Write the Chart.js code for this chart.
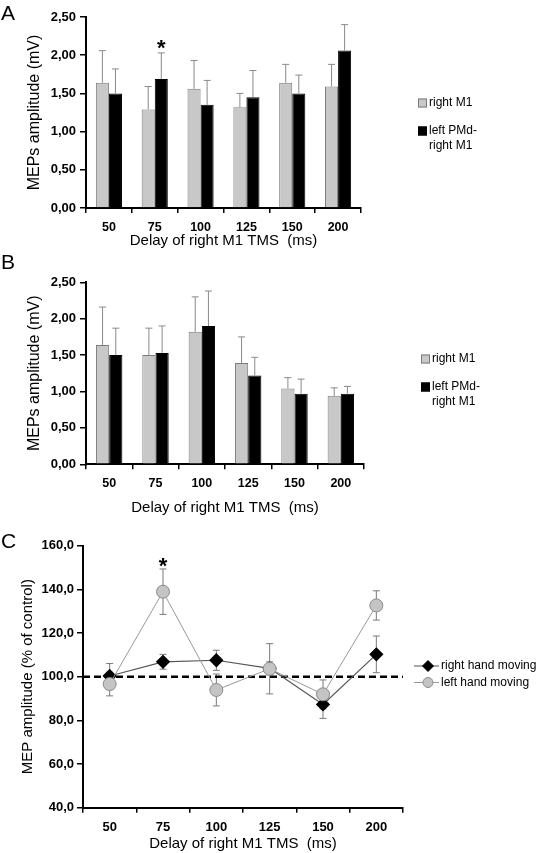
<!DOCTYPE html>
<html>
<head>
<meta charset="utf-8">
<script src="https://cdn.jsdelivr.net/npm/chart.js@4.4.0/dist/chart.umd.min.js"></script>
<style>
  body { margin: 0; background: #fff; }
  #wrap { position: relative; width: 542px; height: 853px; overflow: hidden; }
  canvas { position: absolute; left: 0; }
  .letter { position: absolute; left: 1px; font: 21px "Liberation Sans", Arial, sans-serif; color: #000; }
</style>
</head>
<body>
<div id="wrap">
  <canvas id="chartA" width="542" height="262" style="top:0"></canvas>
  <canvas id="chartB" width="542" height="264" style="top:262px"></canvas>
  <canvas id="chartC" width="542" height="327" style="top:526px"></canvas>
  <div class="letter" style="top:1px">A</div>
  <div class="letter" style="top:250px">B</div>
  <div class="letter" style="top:529px">C</div>
</div>
<script>
const delays = ["50", "75", "100", "125", "150", "200"];
const xTitle = "Delay of right M1 TMS  (ms)";

// panel A - MEPs amplitude (mV)
const rightM1A = [1.64, 1.29, 1.56, 1.32, 1.64, 1.59];
const rightM1AErr = [0.42, 0.30, 0.37, 0.18, 0.24, 0.29];
const leftPMdA = [1.50, 1.69, 1.35, 1.45, 1.50, 2.06];
const leftPMdAErr = [0.32, 0.34, 0.32, 0.35, 0.24, 0.34];

// panel B
const rightM1B = [1.64, 1.50, 1.82, 1.39, 1.04, 0.94];
const rightM1BErr = [0.52, 0.37, 0.48, 0.36, 0.15, 0.11];
const leftPMdB = [1.50, 1.53, 1.90, 1.22, 0.97, 0.97];
const leftPMdBErr = [0.37, 0.37, 0.48, 0.25, 0.20, 0.10];

// panel C - MEP amplitude (% of control)
const rightHand = [100.3, 106.8, 107.5, 103.8, 87.3, 110.2];
const rightHandErr = [5.7, 3.4, 4.6, 3.0, 6.4, 8.4];
const leftHand = [96.6, 138.9, 93.9, 103.6, 91.9, 132.6];
const leftHandErr = [5.4, 10.4, 7.3, 11.5, 6.6, 6.7];

Chart.defaults.color = "#000";
Chart.defaults.font.family = "'Liberation Sans', Arial, sans-serif";

function drawErrors(chart, opts) {
    const ctx = chart.ctx;
    const yScale = chart.scales.y;
    chart.data.datasets.forEach((ds, i) => {
        if (!ds.errors) return;
        const meta = chart.getDatasetMeta(i);
        meta.data.forEach((el, j) => {
            const v = ds.data[j];
            const e = ds.errors[j];
            const top = yScale.getPixelForValue(v + e);
            const bottom = opts.both ? yScale.getPixelForValue(v - e) : el.y;
            ctx.save();
            ctx.strokeStyle = opts.color;
            ctx.lineWidth = 1;
            ctx.beginPath();
            ctx.moveTo(el.x, bottom);
            ctx.lineTo(el.x, top);
            ctx.moveTo(el.x - opts.cap, top);
            ctx.lineTo(el.x + opts.cap, top);
            if (opts.both) {
                ctx.moveTo(el.x - opts.cap, bottom);
                ctx.lineTo(el.x + opts.cap, bottom);
            }
            ctx.stroke();
            ctx.restore();
        });
    });
}

const errorBars = {
    id: "errorBars",
    beforeDatasetsDraw(chart, args, opts) {
        if (opts.under) drawErrors(chart, opts);
    },
    afterDatasetsDraw(chart, args, opts) {
        if (!opts.under) drawErrors(chart, opts);
    }
};

// asterisk above one error bar
const starMark = {
    id: "starMark",
    afterDatasetsDraw(chart, args, opts) {
        const ds = chart.data.datasets[opts.dataset];
        const x = chart.scales.x.getPixelForValue(opts.index);
        const el = chart.getDatasetMeta(opts.dataset).data[opts.index];
        const top = chart.scales.y.getPixelForValue(ds.data[opts.index] + ds.errors[opts.index]);
        const ctx = chart.ctx;
        ctx.save();
        ctx.font = "bold 22px 'Liberation Sans', Arial, sans-serif";
        ctx.fillStyle = "#000";
        ctx.textAlign = "center";
        ctx.textBaseline = "alphabetic";
        ctx.fillText("*", opts.onBar ? el.x : x, top + opts.lift);
        ctx.restore();
    }
};

// legend at the right of the plot
const sideLegend = {
    id: "sideLegend",
    afterDraw(chart, args, opts) {
        const ctx = chart.ctx;
        ctx.save();
        ctx.font = "12px 'Liberation Sans', Arial, sans-serif";
        ctx.fillStyle = "#000";
        ctx.textBaseline = "middle";
        chart.data.datasets.forEach((ds, i) => {
            const y = opts.y + i * opts.gap;
            const lines = ds.label.split("\n");
            if (opts.kind === "box") {
                ctx.fillStyle = ds.backgroundColor;
                ctx.fillRect(opts.x, y - 4.5, 9, 9);
                ctx.strokeStyle = ds.borderColor;
                ctx.lineWidth = 1;
                ctx.strokeRect(opts.x + 0.5, y - 4, 8, 8);
                ctx.fillStyle = "#000";
                lines.forEach((t, k) => ctx.fillText(t, opts.x + 11, y + k * 15));
            } else {
                ctx.strokeStyle = ds.borderColor;
                ctx.lineWidth = 1;
                ctx.beginPath();
                ctx.moveTo(opts.x, y);
                ctx.lineTo(opts.x + 25, y);
                ctx.stroke();
                const mx = opts.x + 14;
                ctx.fillStyle = ds.pointBackgroundColor;
                ctx.strokeStyle = ds.pointBorderColor;
                ctx.beginPath();
                if (ds.pointStyle === "rectRot") {
                    ctx.moveTo(mx, y - 5.5);
                    ctx.lineTo(mx + 5.5, y);
                    ctx.lineTo(mx, y + 5.5);
                    ctx.lineTo(mx - 5.5, y);
                    ctx.closePath();
                } else {
                    ctx.arc(mx, y, 5, 0, Math.PI * 2);
                }
                ctx.fill();
                ctx.stroke();
                ctx.fillStyle = "#000";
                ctx.fillText(ds.label, opts.x + 27, y);
            }
        });
        ctx.restore();
    }
};

function axisCommon() {
    return {
        border: { color: "#000", width: 2 },
        grid: { drawOnChartArea: false, color: "#000", lineWidth: 1.5, tickLength: 6 }
    };
}

function createBarChart(id, grayVals, grayErr, blackVals, blackErr, layout) {
    const ctx = document.getElementById(id).getContext("2d");
    const plugins = [errorBars, sideLegend];
    if (layout.star) plugins.push(starMark);
    return new Chart(ctx, {
        type: "bar",
        data: {
            labels: delays,
            datasets: [{
                label: "right M1",
                data: grayVals,
                errors: grayErr,
                backgroundColor: "#c8c8c8",
                borderColor: "#7c7c7c",
                borderWidth: 1,
                categoryPercentage: 0.57,
                barPercentage: 1
            }, {
                label: "left PMd-\nright M1",
                data: blackVals,
                errors: blackErr,
                backgroundColor: "#000",
                borderColor: "#000",
                borderWidth: 1,
                categoryPercentage: 0.57,
                barPercentage: 1
            }]
        },
        plugins: plugins,
        options: {
            responsive: false,
            animation: false,
            layout: { padding: { top: layout.top, right: layout.right, left: 0, bottom: 0 } },
            plugins: {
                legend: { display: false },
                tooltip: { enabled: false },
                errorBars: { color: "#8a8a8a", cap: 3.5, both: false },
                sideLegend: { kind: "box", x: layout.legendX, y: layout.legendY, gap: 28 },
                starMark: layout.star || {}
            },
            scales: {
                x: {
                    ...axisCommon(),
                    grid: { offset: true, drawOnChartArea: false, color: "#000", lineWidth: 1.5, tickLength: 5 },
                    ticks: { font: { size: 12.5, weight: "bold" }, padding: 7 },
                    title: { display: true, text: xTitle, font: { size: 15 }, padding: { top: 0, bottom: layout.titlePad } },
                    afterFit: s => { s.height = layout.xHeight; }
                },
                y: {
                    ...axisCommon(),
                    min: 0,
                    max: 2.5,
                    ticks: {
                        stepSize: 0.5,
                        font: { size: 13, weight: "bold" },
                        padding: 4,
                        callback: v => v.toFixed(2).replace(".", ",")
                    },
                    title: { display: true, text: "MEPs amplitude (mV)", font: { size: 16 }, padding: { top: 25, bottom: 0 } },
                    afterFit: s => { s.width = 86; }
                }
            }
        }
    });
}

function createLineChart() {
    const ctx = document.getElementById("chartC").getContext("2d");
    return new Chart(ctx, {
        type: "line",
        data: {
            labels: delays,
            datasets: [{
                label: "right hand moving",
                data: rightHand,
                errors: rightHandErr,
                borderColor: "#555",
                borderWidth: 1.2,
                pointStyle: "rectRot",
                pointRadius: 6.3,
                pointBackgroundColor: "#000",
                pointBorderColor: "#000",
                order: 2
            }, {
                label: "left hand moving",
                data: leftHand,
                errors: leftHandErr,
                borderColor: "#999",
                borderWidth: 1,
                pointStyle: "circle",
                pointRadius: 6.5,
                pointBackgroundColor: "#c4c4c4",
                pointBorderColor: "#8a8a8a",
                pointBorderWidth: 1,
                order: 1
            }]
        },
        plugins: [errorBars, sideLegend, starMark, {
            id: "refLine",
            beforeDatasetsDraw(chart) {
                const c = chart.ctx;
                const y = chart.scales.y.getPixelForValue(100);
                c.save();
                c.strokeStyle = "#000";
                c.lineWidth = 2.5;
                c.setLineDash([7, 4]);
                c.beginPath();
                c.moveTo(chart.chartArea.left, y);
                c.lineTo(chart.chartArea.right, y);
                c.stroke();
                c.restore();
            }
        }],
        options: {
            responsive: false,
            animation: false,
            layout: { padding: { top: 19.6, right: 139, left: 0, bottom: 0 } },
            plugins: {
                legend: { display: false },
                tooltip: { enabled: false },
                errorBars: { color: "#7a7a7a", cap: 3.5, both: true, under: true },
                sideLegend: { kind: "line", x: 414, y: 140, gap: 16.5 },
                starMark: { dataset: 1, index: 1, lift: 4, onBar: false }
            },
            scales: {
                x: {
                    ...axisCommon(),
                    offset: true,
                    grid: { offset: true, drawOnChartArea: false, color: "#000", lineWidth: 1.5, tickLength: 5 },
                    ticks: { font: { size: 13, weight: "bold" }, padding: 7 },
                    title: { display: true, text: xTitle, font: { size: 15 }, padding: { top: 0, bottom: 0 } },
                    afterFit: s => { s.height = 45.3; }
                },
                y: {
                    ...axisCommon(),
                    min: 40,
                    max: 160,
                    ticks: {
                        stepSize: 20,
                        font: { size: 13, weight: "bold" },
                        padding: 3,
                        callback: v => v.toFixed(1).replace(".", ",")
                    },
                    title: { display: true, text: "MEP amplitude (% of control)", font: { size: 15 }, padding: { top: 19, bottom: 0 } },
                    afterFit: s => { s.width = 83; }
                }
            }
        }
    });
}

function initApp() {
    createBarChart("chartA", rightM1A, rightM1AErr, leftPMdA, leftPMdAErr, {
        top: 17, right: 181, xHeight: 54, titlePad: 12, legendX: 418, legendY: 103,
        star: { dataset: 1, index: 1, lift: 2, onBar: true }
    });
    createBarChart("chartB", rightM1B, rightM1BErr, leftPMdB, leftPMdBErr, {
        top: 20.3, right: 178, xHeight: 61.7, titlePad: 9, legendX: 421, legendY: 97
    });
    createLineChart();
}

initApp();
</script>
</body>
</html>
